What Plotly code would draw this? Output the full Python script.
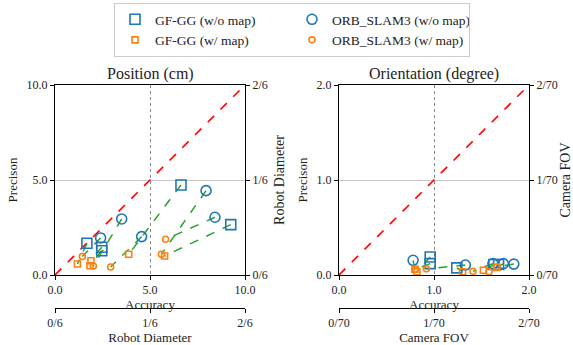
import plotly.graph_objects as go

# ---------------- data ----------------
# Position (cm): accuracy (x), precision (y)
pos_gf_womap_x = [6.63, 9.25, 1.68, 2.46, 2.46]
pos_gf_womap_y = [4.74, 2.65, 1.67, 1.46, 1.28]
pos_gf_wmap_x = [3.88, 5.77, 1.18, 1.89, 1.84]
pos_gf_wmap_y = [1.09, 1.00, 0.58, 0.75, 0.49]
pos_orb_womap_x = [7.95, 8.42, 3.51, 4.56, 2.40]
pos_orb_womap_y = [4.44, 3.04, 2.95, 2.02, 1.95]
pos_orb_wmap_x = [5.60, 5.82, 2.02, 2.93, 1.44]
pos_orb_wmap_y = [1.09, 1.88, 0.47, 0.42, 0.97]

# Orientation (degree)
ori_gf_womap_x = [0.96, 0.96, 1.24, 1.63, 1.68]
ori_gf_womap_y = [0.19, 0.12, 0.075, 0.11, 0.11]
ori_gf_wmap_x = [0.82, 0.80, 1.30, 1.52, 1.66]
ori_gf_wmap_y = [0.035, 0.06, 0.035, 0.05, 0.08]
ori_orb_womap_x = [0.78, 1.33, 1.62, 1.73, 1.84]
ori_orb_womap_y = [0.155, 0.105, 0.12, 0.12, 0.115]
ori_orb_wmap_x = [0.80, 0.92, 1.41, 1.58, 1.66]
ori_orb_wmap_y = [0.06, 0.065, 0.04, 0.035, 0.085]

pos_ticks = [0, 5, 10]
pos_sec_ticktext = ["0/6", "1/6", "2/6"]
ori_ticks = [0, 1, 2]
ori_sec_ticktext = ["0/70", "1/70", "2/70"]

labels = ["GF-GG (w/o map)", "ORB_SLAM3 (w/o map)", "GF-GG (w/ map)", "ORB_SLAM3 (w/ map)"]

BLUE = "#1f77b4"
ORANGE = "#ff7f0e"
GREEN = "#2ca02c"
RED = "#ff0000"
FONT = "Liberation Serif"


def seg(x0, y0, x1, y1):
    xs, ys = [], []
    for a, b, c, d in zip(x0, y0, x1, y1):
        xs += [a, c, None]
        ys += [b, d, None]
    return xs, ys


fig = go.Figure()

panels = [
    dict(xa="x", ya="y", lim=10,
         d=[(pos_gf_womap_x, pos_gf_womap_y), (pos_orb_womap_x, pos_orb_womap_y),
            (pos_gf_wmap_x, pos_gf_wmap_y), (pos_orb_wmap_x, pos_orb_wmap_y)]),
    dict(xa="x3", ya="y3", lim=2,
         d=[(ori_gf_womap_x, ori_gf_womap_y), (ori_orb_womap_x, ori_orb_womap_y),
            (ori_gf_wmap_x, ori_gf_wmap_y), (ori_orb_wmap_x, ori_orb_wmap_y)]),
]

styles = [
    dict(symbol="square-open", size=10, color=BLUE),
    dict(symbol="circle-open", size=10, color=BLUE),
    dict(symbol="square-open", size=6, color=ORANGE),
    dict(symbol="circle-open", size=6, color=ORANGE),
]

for pi, p in enumerate(panels):
    fig.add_trace(go.Scatter(x=[0, p["lim"]], y=[0, p["lim"]], mode="lines",
                             line=dict(color=RED, width=1.6, dash="dash"),
                             xaxis=p["xa"], yaxis=p["ya"], showlegend=False, hoverinfo="skip"))
    d = p["d"]
    for a, b in [(0, 2), (1, 3)]:
        sx, sy = seg(d[a][0], d[a][1], d[b][0], d[b][1])
        fig.add_trace(go.Scatter(x=sx, y=sy, mode="lines",
                                 line=dict(color=GREEN, width=1.5, dash="dash"),
                                 xaxis=p["xa"], yaxis=p["ya"], showlegend=False, hoverinfo="skip"))
    for k in range(4):
        st = styles[k]
        fig.add_trace(go.Scatter(x=d[k][0], y=d[k][1], mode="markers", name=labels[k],
                                 marker=dict(symbol=st["symbol"], size=st["size"], color=st["color"],
                                             line=dict(width=1.6, color=st["color"])),
                                 xaxis=p["xa"], yaxis=p["ya"], showlegend=(pi == 0)))

fig.add_trace(go.Scatter(x=[None], y=[None], xaxis="x2", yaxis="y2", showlegend=False))
fig.add_trace(go.Scatter(x=[None], y=[None], xaxis="x4", yaxis="y4", showlegend=False))

W, H = 573, 345
ml, mr, mt, mb = 55, 44, 85, 37
plot_h = H - mt - mb
ydom0 = (308 - 275) / plot_h
dom_l = [0, 190 / 474]
dom_r = [284 / 474, 1]

tickfont = dict(family=FONT, size=12, color="#222")
titlefont = dict(family=FONT, size=13, color="#222")

common_x = dict(showline=True, linecolor="black", linewidth=1, ticks="outside", ticklen=4,
                tickcolor="black", zeroline=False, tickfont=tickfont, automargin=False)


def main_x(dom, anchor, ticks, lim):
    return dict(common_x, domain=dom, anchor=anchor, range=[0, lim], tickvals=ticks,
                tickformat=".1f", mirror=True, showgrid=True, gridcolor="#888",
                griddash="dot", gridwidth=1,
                title=dict(text="Accuracy", font=titlefont, standoff=2))


def main_y(dom_anchor, ticks, lim):
    return dict(common_x, domain=[ydom0, 1], anchor=dom_anchor, range=[0, lim], tickvals=ticks,
                tickformat=".1f", mirror=True, showgrid=True, gridcolor="#c8c8c8", gridwidth=1,
                title=dict(text="Precison", font=titlefont, standoff=6))


def sec_x(over, ticks, text, lim, title):
    return dict(common_x, overlaying=over, anchor="free", position=0, side="bottom",
                range=[0, lim], tickvals=ticks, ticktext=text, showgrid=False,
                title=dict(text=title, font=titlefont, standoff=1))


def sec_y(over, anchor, ticks, text, lim, title):
    return dict(common_x, overlaying=over, anchor=anchor, side="right",
                range=[0, lim], tickvals=ticks, ticktext=text, showgrid=False,
                title=dict(text=title, font=dict(family=FONT, size=14, color="#222"), standoff=7))


fig.update_layout(
    width=W, height=H,
    margin=dict(l=ml, r=mr, t=mt, b=mb, autoexpand=False),
    paper_bgcolor="white", plot_bgcolor="white",
    font=dict(family=FONT, size=12, color="#222"),
    hovermode=False,
    xaxis=main_x(dom_l, "y", pos_ticks, 10),
    yaxis=main_y("x", pos_ticks, 10),
    xaxis2=sec_x("x", pos_ticks, pos_sec_ticktext, 10, "Robot Diameter"),
    yaxis2=sec_y("y", "x", pos_ticks, pos_sec_ticktext, 10, "Robot Diameter"),
    xaxis3=main_x(dom_r, "y3", ori_ticks, 2),
    yaxis3=main_y("x3", ori_ticks, 2),
    xaxis4=sec_x("x3", ori_ticks, ori_sec_ticktext, 2, "Camera FOV"),
    yaxis4=sec_y("y3", "x3", ori_ticks, ori_sec_ticktext, 2, "Camera FOV"),
    showlegend=True,
    legend=dict(orientation="h", x=(292 - ml) / 474, xanchor="center",
                y=(H - mb - 3) / plot_h, yanchor="top", entrywidth=132,
                bordercolor="#cccccc", borderwidth=1, bgcolor="white",
                font=dict(family=FONT, size=13.5, color="#222"), traceorder="normal"),
)

fig.update_layout(annotations=[
    dict(text="Position (cm)", xref="paper", yref="paper",
         x=(dom_l[0] + dom_l[1]) / 2, xanchor="center", y=1, yanchor="bottom", yshift=0,
         showarrow=False, font=dict(family=FONT, size=16, color="#222")),
    dict(text="Orientation (degree)", xref="paper", yref="paper",
         x=(dom_r[0] + dom_r[1]) / 2, xanchor="center", y=1, yanchor="bottom", yshift=0,
         showarrow=False, font=dict(family=FONT, size=16, color="#222")),
])

fig.write_html("out.html", config={"displayModeBar": False},
               post_script="document.body.style.margin='0px';")
